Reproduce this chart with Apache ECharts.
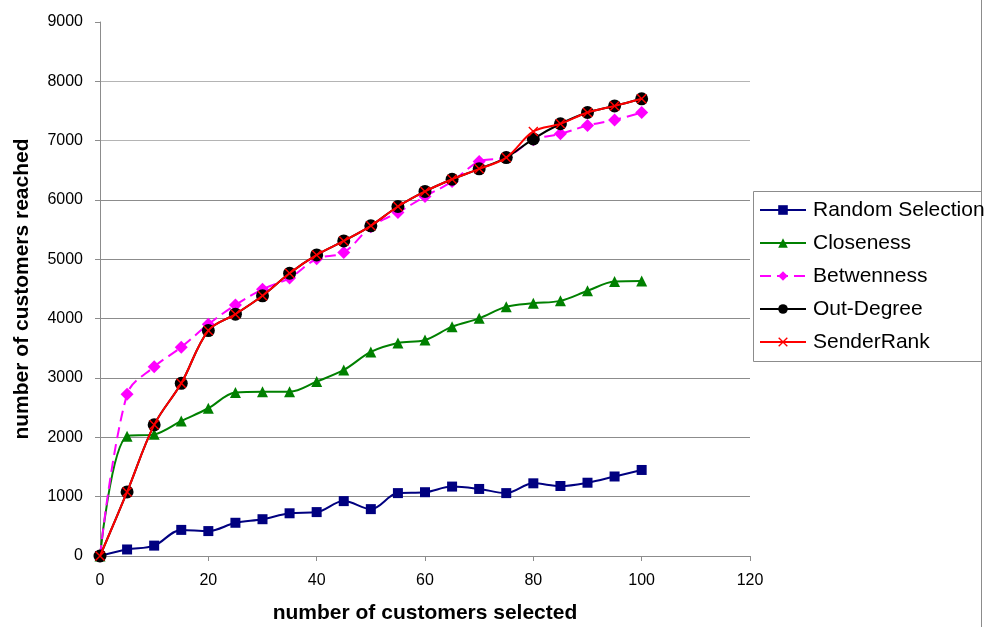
<!DOCTYPE html>
<html>
<head>
<meta charset="utf-8">
<script src="https://cdn.jsdelivr.net/npm/echarts@6/dist/echarts.min.js"></script>
<style>
  html, body { margin: 0; padding: 0; background: #fff; }
  #chart { width: 989px; height: 627px; }
</style>
</head>
<body>
<div id="chart"></div>
<script>
// Number of customers selected (x axis)
const selected = [0, 5, 10, 15, 20, 25, 30, 35, 40, 45, 50, 55, 60, 65, 70, 75, 80, 85, 90, 95, 100];

// Number of customers reached for each selection strategy
const randomSelection = [0, 110, 175, 440, 420, 560, 620, 720, 740, 925, 790, 1060, 1075, 1170, 1130, 1060, 1225, 1180, 1235, 1340, 1450];
const closeness = [0, 2020, 2050, 2275, 2490, 2755, 2770, 2770, 2940, 3135, 3440, 3590, 3640, 3865, 4005, 4200, 4260, 4300, 4470, 4625, 4635];
const betwenness = [0, 2725, 3190, 3520, 3905, 4230, 4495, 4685, 5010, 5115, 5550, 5790, 6060, 6310, 6650, 6720, 7015, 7115, 7255, 7350, 7475];
const outDegree = [0, 1080, 2210, 2910, 3800, 4075, 4385, 4765, 5075, 5310, 5565, 5890, 6145, 6350, 6525, 6715, 7030, 7285, 7475, 7585, 7705];
const senderRank = [0, 1080, 2210, 2910, 3800, 4075, 4385, 4765, 5075, 5310, 5565, 5890, 6145, 6350, 6525, 6715, 7155, 7285, 7475, 7585, 7705];

const seriesNames = ['Random Selection', 'Closeness', 'Betwenness', 'Out-Degree', 'SenderRank'];

const FONT = '"Liberation Sans", Arial, sans-serif';
const AXIS_GRAY = '#8c8c8c';

const pairs = (ys) => selected.map((x, i) => [x, ys[i]]);

// Filled "x" glyph used as the SenderRank marker
const crossPath = 'path://M0,1L1,0L5,4L9,0L10,1L6,5L10,9L9,10L5,6L1,10L0,9L4,5Z';

const chart = echarts.init(document.getElementById('chart'), null, { renderer: 'canvas' });

chart.setOption({
  animation: false,
  backgroundColor: '#ffffff',
  textStyle: { fontFamily: FONT },
  grid: { left: 100, right: 239, top: 22, bottom: 71, containLabel: false, outerBoundsMode: 'none' },
  xAxis: {
    type: 'value',
    min: 0, max: 120, interval: 20,
    name: 'number of customers selected',
    nameLocation: 'middle',
    nameGap: 47,
    nameTextStyle: { fontFamily: FONT, fontSize: 21, fontWeight: 'bold', color: '#000' },
    axisLine: { show: true, lineStyle: { color: AXIS_GRAY, width: 1 } },
    axisTick: { show: true, length: 5, lineStyle: { color: AXIS_GRAY } },
    axisLabel: { fontFamily: FONT, fontSize: 16, color: '#000', margin: 17 },
    splitLine: { show: false }
  },
  yAxis: {
    type: 'value',
    min: 0, max: 9000, interval: 1000,
    name: 'number of customers reached',
    nameLocation: 'middle',
    nameGap: 67,
    nameRotate: 90,
    nameTextStyle: { fontFamily: FONT, fontSize: 21, fontWeight: 'bold', color: '#000' },
    axisLine: { show: true, lineStyle: { color: AXIS_GRAY, width: 1 } },
    axisTick: { show: true, length: 5, lineStyle: { color: AXIS_GRAY } },
    axisLabel: { fontFamily: FONT, fontSize: 16, color: '#000', margin: 17, formatter: (v) => String(v) },
    splitLine: {
      show: true,
      lineStyle: {
        color: [AXIS_GRAY, AXIS_GRAY, AXIS_GRAY, AXIS_GRAY, AXIS_GRAY, AXIS_GRAY, AXIS_GRAY, '#b4b4b4', '#b4b4b4', 'rgba(0,0,0,0)'],
        width: 1
      }
    }
  },
  legend: {
    orient: 'vertical',
    left: 753,
    top: 191,
    padding: [8, 0, 8, 6],
    itemWidth: 46,
    itemHeight: 12,
    itemGap: 11,
    textStyle: { fontFamily: FONT, fontSize: 21, color: '#000', lineHeight: 22, padding: [0, 0, 0, 2] },
    data: seriesNames
  },
  graphic: [
    {
      type: 'rect',
      shape: { x: 753.5, y: 191.5, width: 228, height: 170 },
      style: { fill: 'none', stroke: '#8c8c8c', lineWidth: 1 },
      silent: true,
      z: -1
    },
    {
      type: 'line',
      shape: { x1: 981.5, y1: 0, x2: 981.5, y2: 627 },
      style: { stroke: '#8c8c8c', lineWidth: 1 },
      silent: true
    }
  ],
  series: [
    {
      name: seriesNames[0],
      type: 'line',
      data: pairs(randomSelection),
      smooth: 0.35,
      symbol: 'rect',
      symbolSize: 10,
      lineStyle: { color: '#000080', width: 2 },
      itemStyle: { color: '#000080' },
      z: 2
    },
    {
      name: seriesNames[1],
      type: 'line',
      data: pairs(closeness),
      smooth: 0.35,
      symbol: 'triangle',
      symbolSize: 11,
      lineStyle: { color: '#008000', width: 2 },
      itemStyle: { color: '#008000' },
      z: 3
    },
    {
      name: seriesNames[2],
      type: 'line',
      data: pairs(betwenness),
      smooth: 0.35,
      symbol: 'diamond',
      symbolSize: 13,
      lineStyle: { color: '#ff00ff', width: 2, type: [11, 6] },
      itemStyle: { color: '#ff00ff' },
      z: 4
    },
    {
      name: seriesNames[3],
      type: 'line',
      data: pairs(outDegree),
      smooth: 0.35,
      symbol: 'circle',
      symbolSize: 13,
      lineStyle: { color: '#000000', width: 2 },
      itemStyle: { color: '#000000' },
      z: 5
    },
    {
      name: seriesNames[4],
      type: 'line',
      data: pairs(senderRank),
      smooth: 0.35,
      symbol: crossPath,
      symbolSize: 10,
      lineStyle: { color: '#ff0000', width: 2 },
      itemStyle: { color: '#ff0000' },
      z: 6
    }
  ]
});
</script>
</body>
</html>
